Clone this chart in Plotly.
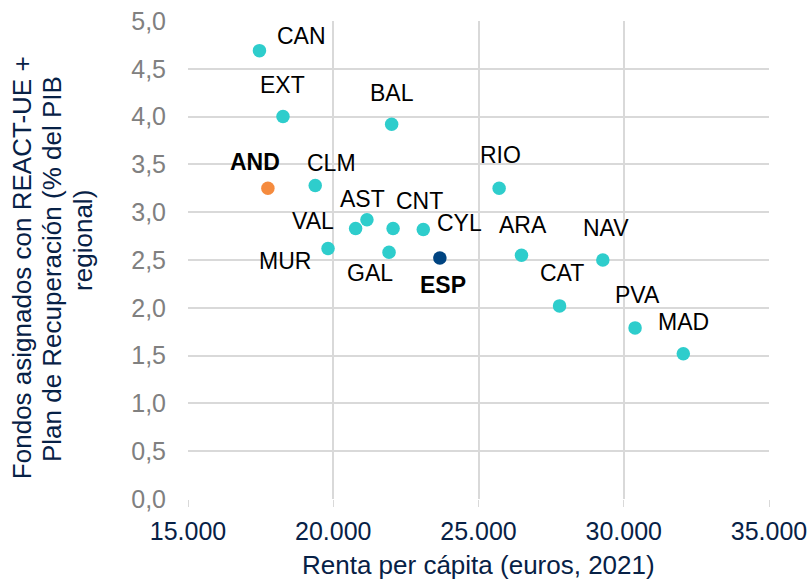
import plotly.graph_objects as go

# Renta per cápita (euros, 2021) vs fondos asignados (% del PIB regional)
regions = ["CAN", "EXT", "BAL", "AND", "CLM", "AST", "CNT", "VAL", "CYL", "MUR",
           "GAL", "ESP", "RIO", "ARA", "NAV", "CAT", "PVA", "MAD"]
renta = [17460, 18270, 22010, 17750, 19380, 21160, 22060, 20770, 23100, 19820,
         21920, 23670, 25710, 26480, 29280, 27790, 30390, 32050]
fondos = [4.69, 4.00, 3.92, 3.25, 3.28, 2.92, 2.83, 2.83, 2.82, 2.62,
          2.58, 2.52, 3.25, 2.55, 2.50, 2.02, 1.79, 1.52]

# label offsets in pixels (dx, dy up)
label_offsets = {
    "CAN": (42, 15), "EXT": (0, 32), "BAL": (0, 31), "AND": (-13, 26),
    "CLM": (16, 22), "AST": (-4, 21), "CNT": (26, 27), "VAL": (-43, 7),
    "CYL": (36, 6), "MUR": (-43, -12), "GAL": (-19, -21), "ESP": (3, -27),
    "RIO": (1, 33), "ARA": (2, 30), "NAV": (3, 32), "CAT": (2, 33),
    "PVA": (2, 33), "MAD": (0, 32),
}

y_title_lines = ["Fondos asignados con REACT-UE +",
                 "Plan de Recuperación (% del PIB",
                 "regional)"]

TEAL = "#2ECDCC"
ORANGE = "#F58B3E"
NAVY = "#004481"
DARK = "#072146"
FONT = "Liberation Sans, Arial, sans-serif"

colors = []
for r in regions:
    if r == "AND":
        colors.append(ORANGE)
    elif r == "ESP":
        colors.append(NAVY)
    else:
        colors.append(TEAL)

fig = go.Figure()
fig.add_trace(go.Scatter(
    x=renta, y=fondos, mode="markers",
    marker=dict(size=13.5, color=colors),
    hovertext=regions, showlegend=False,
))

for r, xv, yv in zip(regions, renta, fondos):
    dx, dy = label_offsets[r]
    bold = r in ("AND", "ESP")
    fig.add_annotation(
        x=xv, y=yv, xref="x", yref="y",
        text=f"<b>{r}</b>" if bold else r,
        showarrow=False, xshift=dx, yshift=dy,
        font=dict(family=FONT, size=23, color="#000000"),
    )

fig.update_layout(
    width=811, height=579,
    separators=",.",
    paper_bgcolor="white", plot_bgcolor="white",
    font=dict(family=FONT, size=24, color=DARK),
    margin=dict(l=188, r=42, t=21, b=80),
    xaxis=dict(
        range=[15000, 35000], dtick=5000, tickformat=",d",
        showgrid=True, gridcolor="#D9D9D9", gridwidth=1.5,
        zeroline=False, showline=False, automargin=False,
        ticks="outside", ticklen=7, tickcolor="#D9D9D9",
        tickfont=dict(size=25, color=DARK), ticklabelstandoff=3,
        ticklabeloverflow="allow",
    ),
    yaxis=dict(
        range=[0, 5], dtick=0.5, tickformat=".1f",
        showgrid=True, gridcolor="#D9D9D9", gridwidth=1.5,
        zeroline=False, showline=False, automargin=False,
        tickfont=dict(size=25, color="#808080"),
        ticks="", ticklabelstandoff=21, ticklabeloverflow="allow",
    ),
)

# x axis title
fig.add_annotation(
    xref="paper", yref="paper", x=0.5, y=0, yshift=-66,
    text="Renta per cápita (euros, 2021)", showarrow=False,
    xanchor="center", yanchor="middle",
    font=dict(family=FONT, size=26, color=DARK),
)

# y axis title, one annotation per line
for line, xs, yp in zip(y_title_lines, [-166, -136, -105], [0.483, 0.481, 0.54]):
    fig.add_annotation(
        xref="paper", yref="paper", x=0, y=yp, xshift=xs,
        text=line, showarrow=False, textangle=-90,
        xanchor="center", yanchor="middle",
        font=dict(family=FONT, size=26, color=DARK),
    )

fig.write_html("out.html", config={"displayModeBar": False},
               post_script="document.body.style.margin='0';")
